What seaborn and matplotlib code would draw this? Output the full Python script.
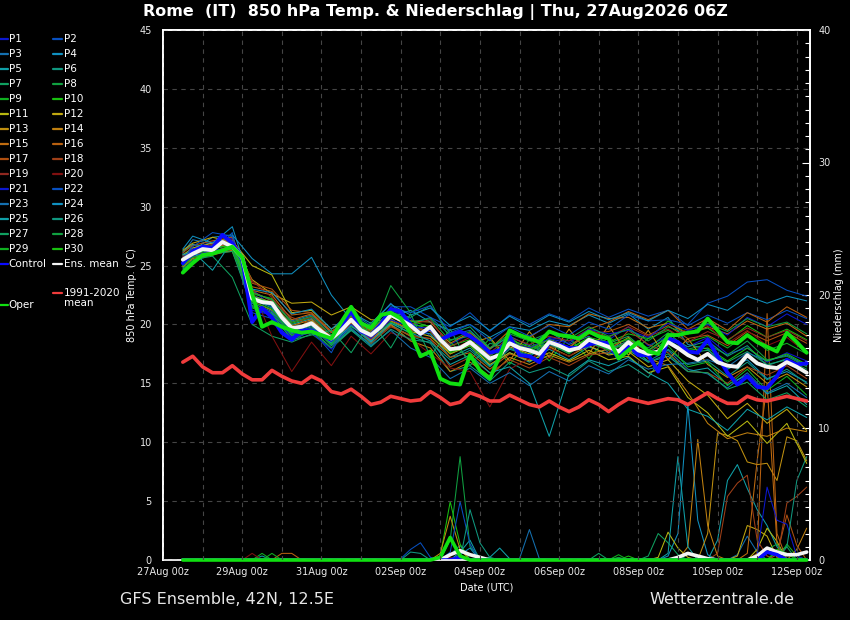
import matplotlib
matplotlib.use("Agg")
import matplotlib.pyplot as plt
from matplotlib.lines import Line2D
from matplotlib.ticker import MultipleLocator, FixedLocator
import pandas as pd
import seaborn as sns

# time axis: hours after 27Aug 00z
hours = list(range(12, 391, 6))                   # 6-hourly, 27Aug 12z .. 12Sep 06z
member_hours = [12] + list(range(18, 391, 12))    # members read at 06z/18z
tick_hours = list(range(0, 385, 48))
tick_labels = ["27Aug 00z", "29Aug 00z", "31Aug 00z", "02Sep 00z", "04Sep 00z",
               "06Sep 00z", "08Sep 00z", "10Sep 00z", "12Sep 00z"]

ens_mean = [25.5, 26.0, 26.4, 26.3, 27.0, 26.6, 25.7, 22.2, 21.9, 21.8,
            20.6, 19.7, 19.8, 20.1, 19.4, 18.8, 19.5, 20.4, 19.5, 19.1,
            19.8, 20.8, 20.4, 19.9, 19.2, 19.8, 18.7, 17.9, 18.0, 18.5,
            17.8, 17.1, 17.4, 18.4, 18.0, 17.8, 17.5, 18.5, 18.2, 17.8,
            18.0, 18.7, 18.4, 18.1, 17.7, 18.5, 17.8, 17.5, 17.7, 18.5,
            18.0, 17.4, 17.0, 17.5, 16.8, 16.5, 16.4, 17.4, 16.7, 16.4,
            16.3, 16.8, 16.4, 15.9]
control = [25.2, 26.2, 26.6, 26.5, 27.6, 26.9, 25.6, 20.2, 21.4, 20.6,
           19.3, 18.7, 19.5, 19.5, 19.1, 18.7, 19.8, 21.2, 19.4, 19.1,
           20.0, 21.3, 21.1, 20.0, 19.2, 19.7, 18.7, 19.1, 19.4, 19.0,
           18.4, 17.6, 17.8, 19.0, 17.4, 17.3, 16.8, 18.5, 18.3, 18.0,
           18.0, 18.3, 18.5, 18.4, 17.1, 18.3, 17.4, 17.4, 16.0, 18.8,
           18.5, 17.7, 17.6, 18.7, 17.3, 15.9, 14.9, 15.6, 14.7, 14.6,
           15.6, 17.0, 16.6, 16.7]
oper = [24.4, 25.2, 25.9, 26.0, 26.3, 26.6, 25.7, 22.6, 19.8, 20.2,
        19.8, 19.5, 19.3, 19.4, 19.1, 18.8, 20.2, 21.5, 20.1, 19.7,
        20.8, 21.0, 20.5, 19.3, 17.3, 17.7, 15.4, 15.0, 14.9, 17.4,
        16.1, 15.4, 17.3, 19.5, 19.1, 18.8, 18.5, 19.4, 19.1, 19.0,
        18.8, 19.4, 19.0, 18.8, 17.1, 17.8, 18.5, 17.7, 17.5, 19.1,
        19.1, 19.3, 19.4, 20.5, 19.5, 18.5, 18.4, 19.1, 18.5, 18.1,
        17.7, 19.3, 18.5, 17.6]
clim = [16.8, 17.3, 16.4, 15.9, 15.9, 16.5, 15.8, 15.3, 15.3, 16.1,
        15.6, 15.2, 15.0, 15.6, 15.2, 14.3, 14.1, 14.5, 13.9, 13.2,
        13.4, 13.9, 13.7, 13.5, 13.6, 14.3, 13.8, 13.2, 13.4, 14.2,
        13.9, 13.5, 13.5, 14.0, 13.6, 13.2, 13.0, 13.5, 13.0, 12.6,
        13.0, 13.6, 13.2, 12.6, 13.2, 13.7, 13.5, 13.3, 13.5, 13.7,
        13.6, 13.2, 13.7, 14.2, 13.7, 13.3, 13.3, 13.9, 13.6, 13.5,
        13.7, 13.9, 13.7, 13.5]

member_names = ["P%d" % n for n in range(1, 31)]
member_temp = [
    [25.8, 26.4, 27.0, 27.3, 23.0, 21.5, 19.0, 20.5, 18.2, 20.1, 19.4, 21.2, 20.5, 19.0, 18.3, 19.2, 16.8,
     18.0, 17.2, 18.9, 18.6, 19.4, 18.7, 19.8, 18.2, 19.0, 18.1, 18.9, 17.5, 18.0, 16.8, 17.6, 16.9],
    [25.2, 26.8, 26.0, 27.8, 21.0, 20.5, 18.6, 19.5, 17.6, 20.8, 18.5, 21.5, 21.5, 20.6, 19.8, 21.0, 19.4,
     20.8, 20.0, 20.9, 20.3, 21.4, 20.6, 21.3, 20.7, 21.2, 19.9, 20.8, 20.1, 21.0, 20.4, 21.2, 20.5],
    [26.0, 27.2, 26.8, 27.5, 22.8, 22.0, 20.3, 20.8, 19.3, 21.0, 19.9, 21.8, 20.0, 20.6, 19.1, 19.5, 17.9,
     19.0, 18.2, 19.4, 18.3, 19.0, 17.6, 18.2, 16.9, 17.8, 16.2, 15.8, 14.6, 15.9, 14.2, 15.0, 13.8],
    [25.6, 26.3, 27.4, 27.6, 25.6, 24.3, 24.3, 25.7, 22.5, 20.4, 19.2, 20.6, 21.2, 20.2, 19.5, 20.0, 18.9,
     19.8, 19.5, 20.3, 19.9, 20.8, 20.1, 20.9, 19.6, 20.6, 18.3, 17.9, 16.2, 17.0, 15.4, 16.0, 15.1],
    [26.2, 26.8, 26.5, 27.0, 22.5, 21.8, 20.0, 20.5, 18.5, 20.0, 18.6, 20.2, 19.5, 19.2, 17.2, 18.0, 16.5,
     17.6, 16.8, 17.9, 17.0, 18.1, 17.5, 17.8, 16.8, 17.3, 16.0, 16.3, 14.9, 15.7, 14.1, 14.8, 13.2],
    [25.0, 25.7, 26.0, 26.4, 21.6, 21.0, 19.0, 19.6, 18.0, 19.6, 18.3, 20.0, 19.0, 18.4, 16.0, 16.5, 15.2,
     16.8, 15.9, 16.4, 15.6, 16.9, 16.0, 16.6, 15.5, 17.9, 16.6, 16.9, 15.6, 16.8, 15.3, 16.2, 15.0],
    [24.8, 25.5, 25.8, 24.0, 20.0, 19.0, 18.5, 19.2, 18.0, 19.5, 18.4, 21.0, 20.6, 21.6, 19.2, 19.8, 18.0,
     19.0, 17.6, 18.8, 18.0, 19.3, 18.4, 19.0, 17.6, 18.7, 17.6, 17.8, 16.8, 17.7, 16.6, 17.0, 16.2],
    [25.4, 26.1, 26.6, 26.9, 22.0, 21.6, 19.4, 20.0, 18.4, 21.2, 19.0, 23.3, 21.0, 22.0, 18.7, 19.0, 17.3,
     18.6, 17.9, 18.4, 17.5, 18.8, 18.2, 18.7, 18.0, 19.3, 17.9, 18.3, 17.4, 18.6, 17.0, 17.3, 16.4],
    [24.6, 25.4, 26.2, 26.5, 21.4, 20.8, 18.8, 19.4, 18.0, 19.8, 18.9, 20.2, 19.2, 19.5, 18.5, 17.0, 18.8,
     16.6, 18.7, 16.9, 18.9, 17.1, 19.0, 17.4, 18.8, 19.5, 18.5, 19.0, 18.0, 19.2, 17.8, 18.4, 17.5],
    [25.1, 25.9, 26.4, 26.8, 22.6, 22.2, 20.1, 20.6, 19.0, 20.7, 19.4, 20.9, 20.1, 19.6, 18.2, 18.7, 17.4,
     18.7, 18.1, 18.7, 17.9, 18.9, 18.5, 19.2, 18.8, 20.3, 19.2, 19.7, 18.6, 19.9, 18.9, 19.6, 18.7],
    [25.9, 26.5, 26.9, 27.1, 25.0, 24.2, 21.0, 21.2, 19.6, 20.6, 19.3, 20.5, 19.4, 19.0, 17.5, 18.2, 16.6,
     17.6, 16.9, 17.6, 16.9, 17.8, 17.0, 17.3, 15.9, 16.4, 13.8, 12.5, 10.5, 11.8, 9.9, 11.6, 8.2],
    [26.3, 26.9, 27.4, 27.0, 23.8, 22.6, 21.8, 21.9, 20.8, 21.5, 20.4, 20.3, 19.6, 19.8, 17.7, 18.3, 16.9,
     18.1, 17.5, 18.1, 17.3, 18.2, 17.4, 17.7, 16.4, 17.0, 15.2, 14.0, 12.0, 13.3, 11.6, 12.8, 11.0],
    [25.3, 25.8, 26.1, 26.2, 22.0, 21.2, 19.6, 20.3, 18.7, 20.3, 19.1, 20.7, 19.7, 19.4, 17.5, 18.4, 18.9,
     16.9, 19.4, 17.2, 19.6, 17.5, 19.9, 17.4, 19.5, 17.0, 18.8, 16.6, 15.5, 16.4, 15.0, 15.8, 14.7],
    [24.9, 25.6, 25.9, 26.3, 22.4, 21.9, 19.9, 20.4, 18.9, 20.2, 18.8, 20.0, 18.6, 18.0, 16.0, 16.8, 15.6,
     17.2, 16.6, 17.4, 16.8, 17.5, 17.9, 18.9, 17.1, 16.5, 14.2, 11.6, 10.3, 10.8, 10.5, 11.2, 10.9],
    [25.7, 26.2, 26.7, 27.0, 22.9, 22.5, 20.4, 20.9, 19.4, 20.5, 19.5, 21.0, 20.3, 20.2, 18.4, 19.3, 17.9,
     19.5, 18.9, 20.0, 19.8, 20.9, 20.5, 20.6, 19.7, 20.1, 19.2, 19.8, 19.2, 20.3, 19.6, 20.1, 19.0],
    [25.5, 26.0, 26.5, 26.9, 23.2, 22.8, 20.8, 21.0, 19.3, 20.1, 18.7, 19.9, 19.0, 18.8, 17.2, 17.6, 16.2,
     17.5, 17.0, 18.1, 18.0, 19.6, 20.2, 21.1, 20.4, 21.2, 19.6, 20.5, 19.5, 21.0, 20.2, 21.5, 20.6],
    [26.1, 26.7, 27.1, 27.4, 23.5, 23.0, 21.2, 21.0, 19.4, 20.3, 18.9, 20.4, 19.5, 19.6, 17.8, 18.6, 17.4,
     18.5, 18.0, 18.7, 18.1, 19.2, 19.4, 20.0, 19.1, 19.9, 18.8, 19.1, 18.2, 19.4, 18.6, 19.3, 18.4],
    [25.2, 25.9, 26.2, 26.7, 22.8, 22.0, 20.6, 20.0, 18.6, 20.0, 18.4, 19.8, 19.1, 18.8, 16.4, 17.2, 15.9,
     17.0, 16.3, 17.2, 16.5, 17.4, 17.6, 19.5, 18.3, 17.6, 16.0, 15.9, 15.0, 16.4, 15.7, 16.5, 15.4],
    [25.8, 26.3, 26.8, 27.2, 23.7, 22.3, 20.2, 20.6, 19.0, 20.6, 19.3, 20.8, 20.0, 20.4, 18.1, 18.9, 17.6,
     18.9, 18.3, 19.0, 18.6, 19.6, 18.9, 19.8, 19.0, 19.6, 18.5, 19.4, 18.7, 19.7, 18.9, 19.5, 18.6],
    [25.6, 26.2, 26.6, 27.0, 23.0, 19.0, 16.0, 18.5, 16.5, 19.0, 17.5, 19.3, 18.8, 17.5, 16.3, 16.0, 13.0,
     16.2, 17.1, 18.0, 17.3, 18.4, 17.8, 18.6, 17.7, 19.0, 19.6, 19.9, 18.4, 19.5, 18.2, 18.9, 17.6],
    [25.0, 25.8, 26.3, 26.5, 21.2, 20.8, 18.9, 19.3, 17.9, 20.0, 18.8, 20.4, 19.8, 19.7, 17.9, 18.4, 16.9,
     18.5, 18.0, 18.8, 18.4, 19.6, 19.2, 19.5, 18.9, 20.1, 19.5, 20.0, 19.1, 20.6, 19.8, 20.9, 20.0],
    [25.6, 26.6, 27.8, 27.5, 22.3, 21.5, 19.5, 20.2, 18.6, 20.9, 19.7, 21.4, 21.0, 21.6, 19.3, 20.0, 18.6,
     19.8, 19.0, 19.9, 19.1, 20.2, 19.6, 20.8, 20.3, 20.4, 20.0, 21.8, 22.4, 23.6, 23.8, 22.9, 22.4],
    [25.3, 25.9, 26.0, 26.6, 21.8, 21.1, 19.2, 19.8, 18.3, 19.7, 18.2, 19.5, 18.0, 17.2, 15.4, 16.3, 15.0,
     15.9, 14.8, 16.0, 15.2, 16.5, 15.8, 17.0, 16.2, 16.6, 16.7, 17.0, 16.4, 17.6, 16.9, 17.4, 16.5],
    [26.4, 27.5, 26.9, 28.3, 23.0, 22.7, 20.9, 21.3, 19.6, 21.0, 20.1, 21.7, 20.8, 21.4, 19.9, 20.7, 19.5,
     20.7, 19.8, 20.8, 20.2, 21.1, 20.4, 21.0, 20.3, 21.2, 20.5, 21.7, 21.2, 22.4, 21.8, 22.4, 22.0],
    [25.9, 26.2, 24.6, 27.1, 22.4, 21.7, 19.8, 20.0, 18.4, 19.9, 18.5, 20.1, 19.3, 18.6, 16.6, 17.4, 15.9,
     16.4, 15.0, 10.5, 15.8, 17.0, 16.5, 17.2, 15.9, 15.0, 12.8, 12.2, 11.0, 12.8, 11.9, 13.0, 12.1],
    [25.4, 26.0, 26.4, 26.8, 22.1, 21.4, 19.3, 19.9, 18.2, 19.5, 18.1, 19.6, 18.7, 18.5, 17.0, 17.8, 16.4,
     17.9, 17.3, 18.3, 17.6, 18.4, 17.9, 18.6, 17.8, 19.0, 18.1, 18.6, 17.3, 18.2, 16.5, 17.1, 15.9],
    [24.7, 25.3, 26.0, 26.2, 21.5, 20.9, 18.7, 19.1, 19.5, 17.6, 20.2, 18.0, 20.9, 17.3, 19.6, 16.5, 18.4,
     18.0, 17.4, 18.5, 17.7, 18.6, 17.9, 18.4, 16.8, 17.5, 16.0, 15.9, 14.5, 15.1, 13.6, 14.2, 13.0],
    [25.5, 26.1, 26.7, 27.0, 22.7, 22.1, 20.2, 20.7, 19.1, 20.9, 19.6, 21.1, 20.2, 20.5, 18.6, 19.4, 18.0,
     19.2, 18.6, 19.3, 18.8, 19.8, 19.0, 19.6, 18.6, 19.8, 19.2, 20.1, 19.4, 20.5, 19.8, 20.2, 19.2],
    [25.0, 25.7, 26.1, 26.4, 21.9, 21.3, 19.1, 19.7, 18.3, 20.4, 19.0, 20.7, 19.9, 19.9, 17.6, 18.2, 16.8,
     18.3, 17.7, 18.5, 17.6, 18.6, 17.8, 18.4, 17.2, 18.2, 16.4, 16.8, 14.8, 16.2, 14.4, 15.6, 14.0],
    [25.3, 26.0, 26.5, 26.7, 22.3, 21.9, 19.6, 20.2, 18.7, 20.5, 19.2, 20.8, 20.3, 19.8, 17.7, 18.5, 17.0,
     18.5, 17.9, 18.7, 17.9, 18.8, 18.2, 18.8, 17.8, 18.9, 17.8, 18.0, 16.9, 18.0, 16.9, 17.5, 16.6],
]

# precipitation (mm per 6 h), only the non-zero steps, keyed by 6-hourly index
member_rain = [
    {},
    {22: 0.1, 23: 0.8, 24: 1.3, 25: 0.2},
    {56: 0.4, 57: 1.8, 58: 0.6},
    {49: 0.3, 50: 2.0, 51: 11.7, 52: 3.0, 53: 0.4},
    {8: 0.3, 28: 0.6, 29: 1.5, 31: 0.2, 32: 0.9, 33: 0.1, 54: 1.5, 55: 6.0, 56: 7.2, 57: 5.4, 58: 3.8, 59: 2.6, 60: 1.0},
    {27: 0.4, 28: 1.1},
    {42: 0.5, 60: 0.6, 61: 1.0},
    {27: 1.5, 28: 7.8, 29: 1.0, 30: 0.2},
    {8: 0.5, 61: 1.2, 62: 0.3},
    {26: 0.3, 27: 4.4, 28: 1.2, 45: 0.3},
    {48: 0.2, 49: 2.1, 50: 0.9, 51: 0.2, 58: 0.8, 59: 2.4, 60: 1.4},
    {56: 0.3, 57: 2.6, 58: 2.3, 59: 1.8, 60: 0.2},
    {26: 0.5, 27: 3.3, 28: 0.8, 53: 2.0, 54: 9.6, 55: 9.4, 56: 9.0, 57: 7.4, 58: 7.2, 59: 7.3, 60: 6.0, 61: 9.3, 62: 9.0, 63: 7.5},
    {51: 1.0, 52: 9.1, 53: 2.6, 54: 0.3, 62: 0.8, 63: 2.4},
    {57: 0.5, 58: 7.5, 59: 13.3, 60: 1.2},
    {10: 0.5, 11: 0.5, 58: 0.5, 59: 18.6, 60: 2.0},
    {60: 0.4, 61: 3.4, 62: 1.1},
    {54: 0.5, 55: 4.8, 56: 5.8, 57: 6.4, 58: 1.5, 59: 0.3, 61: 4.3, 62: 4.8, 63: 5.5},
    {},
    {7: 0.5, 27: 0.2},
    {58: 0.4, 59: 5.5, 60: 3.0, 61: 2.7, 62: 0.3},
    {27: 0.6, 28: 4.4, 29: 1.2},
    {34: 0.1, 35: 2.3, 36: 0.1},
    {28: 0.4, 29: 0.9},
    {49: 0.5, 50: 7.8, 51: 1.0},
    {23: 0.6, 24: 0.5, 29: 3.8, 30: 1.3, 31: 0.2, 61: 1.0, 62: 6.0, 63: 7.8},
    {47: 0.3, 48: 2.0, 49: 1.3, 50: 0.4},
    {44: 0.2, 59: 0.8, 60: 1.2},
    {9: 0.5, 44: 0.4},
    {60: 0.8, 61: 0.5},
]
mean_rain = {27: 0.4, 28: 0.7, 29: 0.4, 30: 0.2, 50: 0.2, 51: 0.5, 52: 0.3, 53: 0.1,
             58: 0.3, 59: 0.9, 60: 0.6, 61: 0.4, 62: 0.4, 63: 0.6}
control_rain = {28: 0.2, 59: 0.6, 60: 0.4}
oper_rain = {26: 0.2, 27: 1.7, 28: 0.3}

base_colors = ["#0c18d0", "#0850c0", "#1470b0", "#1090c0", "#10a0a8", "#109880", "#10a060",
               "#10a040", "#10b020", "#18c010", "#b8b810", "#c0a810", "#c09010", "#c08010",
               "#c06c10", "#b86010", "#b05010", "#a04018", "#902820", "#801010"]
member_colors = base_colors + base_colors[:10]
c_control = "#0a0aff"
c_mean = "#f4f4f4"
c_oper = "#10e010"
c_clim = "#f03c3c"

sns.set_theme(style="dark", rc={
    "figure.facecolor": "black", "axes.facecolor": "black", "savefig.facecolor": "black",
    "axes.edgecolor": "white", "text.color": "white", "axes.labelcolor": "white",
    "xtick.color": "#e8e8e8", "ytick.color": "#e8e8e8",
})
plt.rcParams["font.family"] = ["DejaVu Sans"]

fig = plt.figure(figsize=(8.5, 6.2), dpi=100)
ax = fig.add_axes([163 / 850, 60 / 620, 647 / 850, 530 / 620])
ax2 = ax.twinx()
ax.set_zorder(2)
ax.patch.set_visible(False)
ax2.set_zorder(1)

# --- precipitation (right axis)
rows = []
for name, d in zip(member_names, member_rain):
    for i, h in enumerate(hours):
        rows.append((name, h, d.get(i, 0.0)))
rain_df = pd.DataFrame(rows, columns=["member", "hour", "mm"])
sns.lineplot(data=rain_df, x="hour", y="mm", hue="member", hue_order=member_names,
             palette=member_colors, linewidth=0.75, estimator=None, legend=False, ax=ax2)
sns.lineplot(x=hours, y=[mean_rain.get(i, 0.0) for i in range(len(hours))], color=c_mean,
             linewidth=2.6, ax=ax2)
sns.lineplot(x=hours, y=[control_rain.get(i, 0.0) for i in range(len(hours))], color=c_control,
             linewidth=2.6, ax=ax2)
sns.lineplot(x=hours, y=[oper_rain.get(i, 0.0) for i in range(len(hours))], color=c_oper,
             linewidth=2.6, ax=ax2, zorder=3, clip_on=False)

# --- temperature (left axis)
rows = []
for name, temps in zip(member_names, member_temp):
    for h, t in zip(member_hours, temps):
        rows.append((name, h, t))
temp_df = pd.DataFrame(rows, columns=["member", "hour", "temp"])
sns.lineplot(data=temp_df, x="hour", y="temp", hue="member", hue_order=member_names,
             palette=member_colors, linewidth=0.75, estimator=None, legend=False, ax=ax)
sns.lineplot(x=hours, y=clim, color=c_clim, linewidth=2.6, ax=ax)
sns.lineplot(x=hours, y=control, color=c_control, linewidth=2.8, ax=ax)
sns.lineplot(x=hours, y=ens_mean, color=c_mean, linewidth=2.8, ax=ax)
sns.lineplot(x=hours, y=oper, color=c_oper, linewidth=2.8, ax=ax)

# --- axes styling
ax.set_xlim(0, 392)
ax.set_ylim(0, 45)
ax2.set_ylim(0, 40)
ax.xaxis.set_major_locator(FixedLocator(tick_hours))
ax.set_xticklabels(tick_labels)
ax.xaxis.set_minor_locator(MultipleLocator(24))
ax.yaxis.set_major_locator(MultipleLocator(5))
ax.tick_params(axis="both", which="both", length=0, labelsize=7)
ax.tick_params(axis="x", pad=5)
ax.tick_params(axis="y", pad=8)
ax.grid(True, axis="x", which="both", color="#454545", linestyle=(0, (4, 4)), linewidth=0.8)
ax.grid(True, axis="y", which="major", color="#454545", linestyle=(0, (4, 4)), linewidth=0.8)
ax.set_xlabel("Date (UTC)", fontsize=7)
ax.set_ylabel("850 hPa Temp. (°C)", fontsize=7)
ax.xaxis.set_label_coords(0.5, -0.043)
ax.yaxis.set_label_coords(-0.040, 0.5)
ax.spines["bottom"].set_visible(False)

ax2.yaxis.set_major_locator(MultipleLocator(10))
ax2.yaxis.set_minor_locator(MultipleLocator(1))
ax2.tick_params(axis="y", which="major", direction="in", length=6, width=0.8,
                color="white", labelsize=7, pad=6)
ax2.tick_params(axis="y", which="minor", direction="in", length=3.5, width=0.8, color="white")
ax2.set_ylabel("Niederschlag (mm)", fontsize=7)
ax2.yaxis.set_label_coords(1.037, 0.5)
ax2.grid(False)
for side in ["left", "right", "top", "bottom"]:
    ax2.spines[side].set_color("white")
    ax.spines[side].set_color("white")
ax2.spines["bottom"].set_visible(True)

# --- legend block on the left
def fx(px):
    return px / 850

def fy(py):
    return 1 - py / 620

legend_rows = [(member_names[2 * r], member_colors[2 * r], member_names[2 * r + 1], member_colors[2 * r + 1])
               for r in range(15)]
legend_rows.append(("Control", c_control, "Ens. mean", c_mean))
for r, (n1, col1, n2, col2) in enumerate(legend_rows):
    y = 39 + 15 * r
    fig.add_artist(Line2D([fx(0), fx(8)], [fy(y), fy(y)], color=col1, linewidth=1.6))
    fig.text(fx(8.5), fy(y), n1, fontsize=7.5, color="white", va="center", ha="left")
    fig.add_artist(Line2D([fx(53), fx(62)], [fy(y), fy(y)], color=col2, linewidth=1.6))
    fig.text(fx(64), fy(y), n2, fontsize=7.5, color="white", va="center", ha="left")
fig.add_artist(Line2D([fx(53), fx(62)], [fy(293), fy(293)], color=c_clim, linewidth=1.6))
fig.text(fx(64), fy(293), "1991-2020", fontsize=7.5, color="white", va="center", ha="left")
fig.text(fx(64), fy(303.5), "mean", fontsize=7.5, color="white", va="center", ha="left")
fig.add_artist(Line2D([fx(0), fx(8)], [fy(305), fy(305)], color=c_oper, linewidth=1.6))
fig.text(fx(8.5), fy(305), "Oper", fontsize=7.5, color="white", va="center", ha="left")

# --- titles
fig.text(fx(435), fy(12), "Rome  (IT)  850 hPa Temp. & Niederschlag | Thu, 27Aug2026 06Z",
         fontsize=11.5, fontweight="bold", color="white", ha="center", va="center")
fig.text(fx(120), fy(599), "GFS Ensemble, 42N, 12.5E", fontsize=11.5, color="#e6e6e6",
         ha="left", va="center")
fig.text(fx(794), fy(599), "Wetterzentrale.de", fontsize=11.5, color="#e6e6e6",
         ha="right", va="center")

fig.savefig("out.png", dpi=100, facecolor="black")
